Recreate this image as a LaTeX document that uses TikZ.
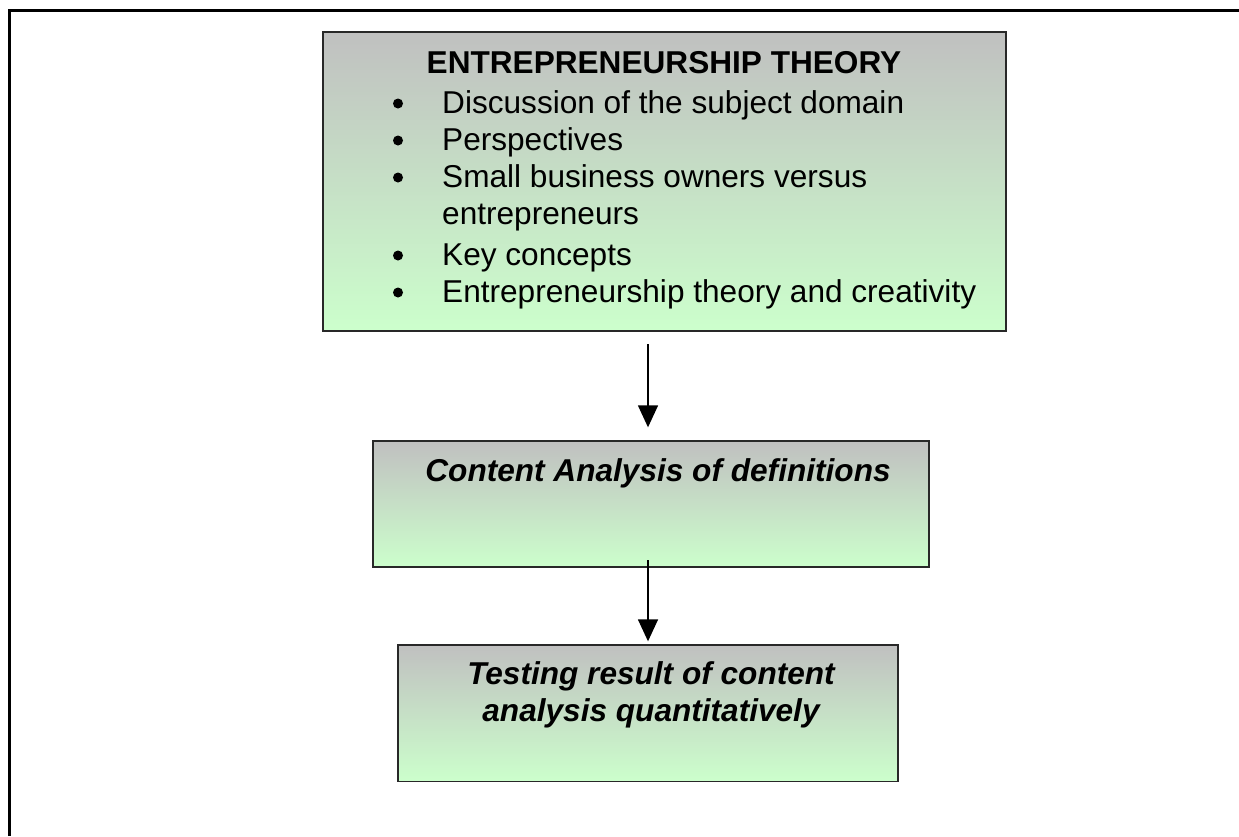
\documentclass[tikz,border=0pt]{standalone}
\usepackage{fontspec}
\setmainfont{Liberation Sans}
\usetikzlibrary{arrows.meta}
\definecolor{boxgray}{RGB}{192,192,192}
\definecolor{boxgreen}{RGB}{204,255,204}
\definecolor{edge}{RGB}{40,40,40}
\tikzset{
  panel/.style={draw=edge, line width=1.4pt, rectangle, inner sep=0pt,
    top color=boxgray, bottom color=boxgreen},
  txt/.style={anchor=base west, inner sep=0pt, font=\fontsize{31.6}{36.5}\selectfont},
  ctxt/.style={anchor=base, inner sep=0pt, font=\fontsize{31.6}{36.5}\selectfont},
  dot/.style={circle, fill=black, inner sep=0pt, minimum size=10pt},
  flow/.style={line width=1.5pt, -{Triangle[width=20pt,length=22pt]}},
}
\begin{document}
\begin{tikzpicture}[x=1pt,y=-1pt]
\useasboundingbox (0,0) rectangle (1239,836);
\fill[white] (0,0) rectangle (1239,836);

% page frame (top and left rules)
\draw[line width=3pt] (9,836) -- (9,10.5) -- (1239,10.5);

% boxes
\node[panel, minimum width=683pt, minimum height=299pt] (theory) at (664.5,181.5) {};
\node[panel, minimum width=556pt, minimum height=126pt] (content) at (651,504) {};
\node[panel, minimum width=500pt, minimum height=136.5pt] (testing) at (648,713.25) {};

% first box: heading and bullet list
\node[ctxt, font=\fontsize{31.6}{36.5}\selectfont\bfseries] (title) at (664,73) {ENTREPRENEURSHIP THEORY};
\node[dot] (d1) at (398,103.5) {};
\node[txt] (l1) at (442,113) {Discussion of the subject domain};
\node[dot] (d2) at (398,140.5) {};
\node[txt] (l2) at (442,150) {Perspectives};
\node[dot] (d3) at (398,177.5) {};
\node[txt] (l3) at (442,187) {Small business owners versus};
\node[txt] (l3b) at (442,224) {entrepreneurs};
\node[dot] (d4) at (398,255.5) {};
\node[txt] (l4) at (442,265) {Key concepts};
\node[dot] (d5) at (398,292.5) {};
\node[txt] (l5) at (442,302) {Entrepreneurship theory and creativity};

% second and third box texts
\node[ctxt, font=\fontsize{31.6}{36.5}\selectfont\bfseries\itshape] (ctext) at (658,481) {Content Analysis of definitions};
\node[ctxt, font=\fontsize{31.6}{36.5}\selectfont\bfseries\itshape] (ttext1) at (651,684) {Testing result of content};
\node[ctxt, font=\fontsize{31.6}{36.5}\selectfont\bfseries\itshape] (ttext2) at (651,721) {analysis quantitatively};

% connectors
\coordinate (a1) at (648,344);
\coordinate (a2) at (648,560);
\draw[flow, shorten >=13pt] (a1) -- (a1 |- content.north);
\draw[flow, shorten >=3pt] (a2) -- (a2 |- testing.north);
\end{tikzpicture}
\end{document}
